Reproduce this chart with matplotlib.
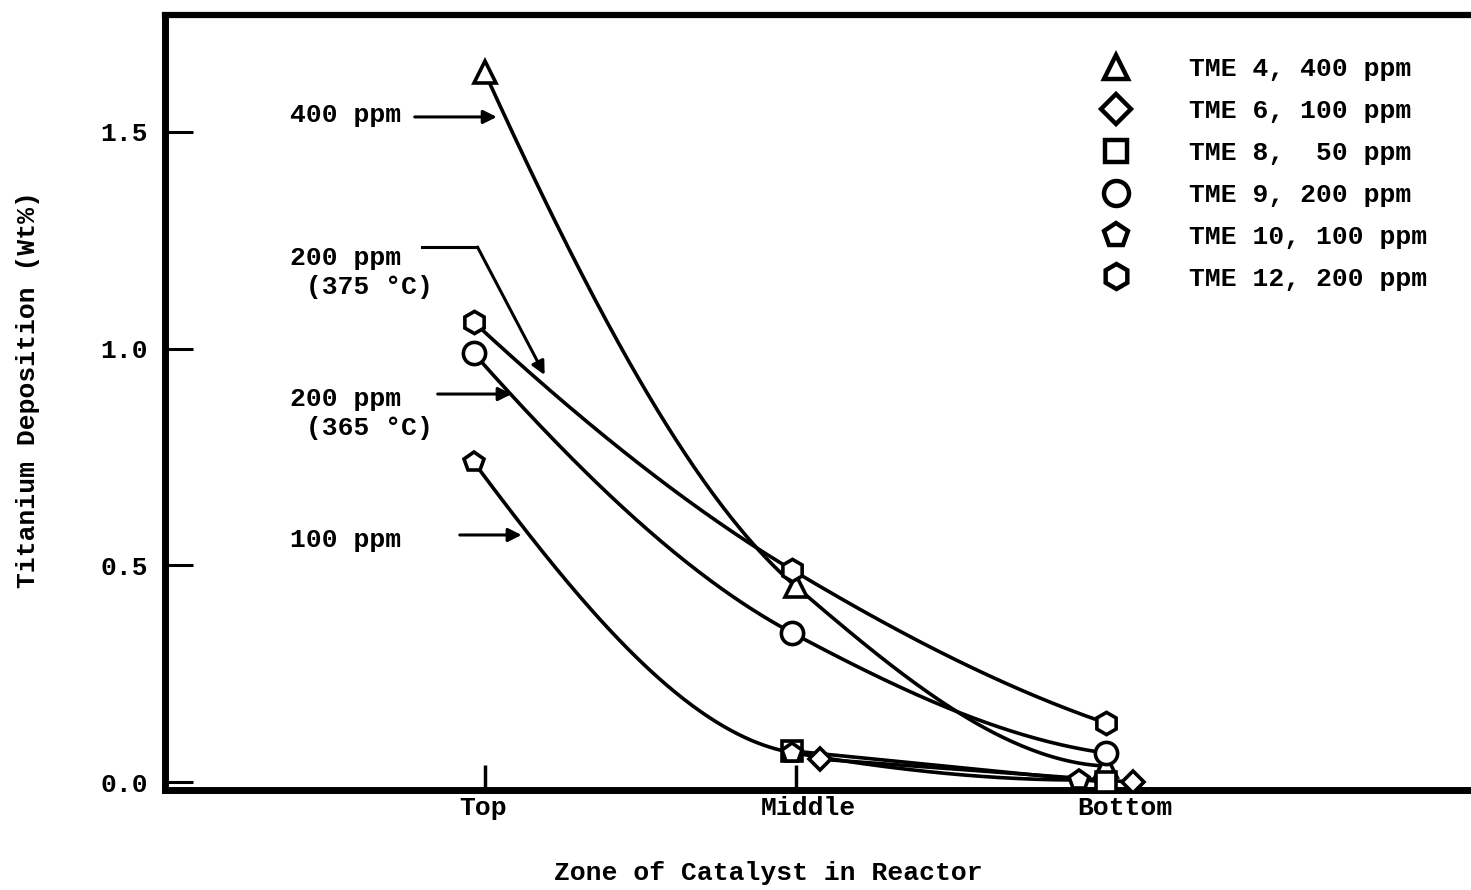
import numpy as np
import matplotlib
matplotlib.use("Agg")
import matplotlib.pyplot as plt
from matplotlib.lines import Line2D
from matplotlib.transforms import ScaledTranslation

plt.rcParams['font.family'] = ['Liberation Mono', 'DejaVu Sans Mono']
plt.rcParams['font.weight'] = 'bold'

# ---------------------------------------------------------------
# Data (Ti deposition, wt%)
# ---------------------------------------------------------------
zones = ["Top", "Middle", "Bottom"]

tme4 = [1.637, 0.452, 0.037]
tme6 = [np.nan, 0.053, 0.0]
tme8 = [np.nan, 0.072, 0.0]
tme9 = [0.989, 0.344, 0.067]
tme10 = [0.738, 0.068, 0.005]
tme12 = [1.061, 0.489, 0.136]

labels = ["TME 4, 400 ppm", "TME 6, 100 ppm", "TME 8,  50 ppm",
          "TME 9, 200 ppm", "TME 10, 100 ppm", "TME 12, 200 ppm"]

# marker, marker size, legend marker size and small horizontal dodge per zone
styles = [
    (tme4, "^", 16, 17, [0.0, 0.0, 0.0]),
    (tme6, "D", 11, 15, [0.0, 0.08, 0.085]),
    (tme8, "s", 14, 16, [0.0, -0.01, 0.0]),
    (tme9, "o", 16, 18, [-0.035, -0.01, 0.0]),
    (tme10, "p", 15, 18, [-0.035, -0.01, -0.087]),
    (tme12, "h", 16, 18, [-0.035, -0.01, 0.0]),
]


def pchip(x, y, xs):
    '''Monotone cubic through the points (used only to draw smooth curves).'''
    x = np.asarray(x, float)
    y = np.asarray(y, float)
    h = np.diff(x)
    d = np.diff(y) / h
    n = len(x)
    m = np.zeros(n)
    if n == 2:
        m[:] = d[0]
    else:
        for k in range(1, n - 1):
            if d[k - 1] * d[k] > 0:
                w1 = 2 * h[k] + h[k - 1]
                w2 = h[k] + 2 * h[k - 1]
                m[k] = (w1 + w2) / (w1 / d[k - 1] + w2 / d[k])
        for i, (hh, dd) in enumerate([((h[0], h[1]), (d[0], d[1])),
                                      ((h[-1], h[-2]), (d[-1], d[-2]))]):
            e = ((2 * hh[0] + hh[1]) * dd[0] - hh[0] * dd[1]) / (hh[0] + hh[1])
            if np.sign(e) != np.sign(dd[0]):
                e = 0.0
            elif np.sign(dd[0]) != np.sign(dd[1]) and abs(e) > abs(3 * dd[0]):
                e = 3 * dd[0]
            m[0 if i == 0 else -1] = e
    out = np.empty_like(xs)
    for j, xv in enumerate(xs):
        k = min(max(np.searchsorted(x, xv) - 1, 0), n - 2)
        t = (xv - x[k]) / h[k]
        h00 = 2 * t**3 - 3 * t**2 + 1
        h10 = t**3 - 2 * t**2 + t
        h01 = -2 * t**3 + 3 * t**2
        h11 = t**3 - t**2
        out[j] = h00 * y[k] + h10 * h[k] * m[k] + h01 * y[k + 1] + h11 * h[k] * m[k + 1]
    return out


FS = 19

fig = plt.figure(figsize=(14.71, 8.90), dpi=100)
ax = fig.add_axes([0.112, 0.1124, 0.895, 0.8707])

xpos = np.arange(len(zones))
handles = []
for (vals, mk, ms, lms, dodge), lab in zip(styles, labels):
    vals = np.asarray(vals, float)
    xs = xpos + np.asarray(dodge)
    ok = ~np.isnan(vals)
    xf, yf = xs[ok], vals[ok]
    xx = np.linspace(xf[0], xf[-1], 200)
    ax.plot(xx, pchip(xf, yf, xx), color="black", lw=2.6, zorder=2,
            solid_capstyle="round")
    ax.plot(xf, yf, linestyle="none", marker=mk, ms=ms, mfc="white",
            mec="black", mew=2.6, zorder=3)
    handles.append(Line2D([], [], linestyle="none", marker=mk, ms=lms,
                          mfc="white", mec="black", mew=3.2, label=lab))

ax.set_xlim(-1.029, 3.206)
ax.set_ylim(-0.018, 1.769)
ax.set_xticks(xpos)
ax.set_xticklabels(zones)
ax.set_yticks([0.0, 0.5, 1.0, 1.5])
ax.set_yticklabels(["0.0", "0.5", "1.0", "1.5"])
ax.tick_params(axis="x", direction="in", length=18, width=2.5, pad=4,
               labelsize=FS)
ax.tick_params(axis="y", direction="in", length=20, width=2.2, pad=12,
               labelsize=FS)
# typed labels sit a little right of the tick marks
for lbl, dx in zip(ax.get_xticklabels(), [-2, 13, 18]):
    lbl.set_transform(lbl.get_transform() + ScaledTranslation(dx / 100, 0, fig.dpi_scale_trans))
ax.spines["left"].set_linewidth(5)
ax.spines["bottom"].set_linewidth(5)
ax.spines["top"].set_linewidth(4.5)
ax.spines["right"].set_linewidth(4)

fig.text(768 / 1471, 1 - 873 / 890, "Zone of Catalyst in Reactor",
         ha="center", va="center", fontsize=FS)
fig.text(28 / 1471, 1 - 390 / 890, "Titanium Deposition (Wt%)",
         ha="center", va="center", rotation=90, fontsize=FS)

# annotations with arrows
arrow = dict(arrowstyle="-|>", color="black", lw=2.2, mutation_scale=20,
             shrinkA=0, shrinkB=0)
tx = -0.627
ax.text(tx, 1.538, "400 ppm", ha="left", va="center", fontsize=FS)
ax.annotate("", xy=(0.039, 1.534), xytext=(-0.225, 1.534), arrowprops=arrow)

ax.text(tx, 1.175, "200 ppm\n (375 °C)", ha="left", va="center",
        fontsize=FS, linespacing=1.25)
ax.plot([-0.203, -0.023], [1.234, 1.234], color="black", lw=2.2)
ax.annotate("", xy=(0.193, 0.939), xytext=(-0.023, 1.234), arrowprops=arrow)

ax.text(tx, 0.851, "200 ppm\n (365 °C)", ha="left", va="center",
        fontsize=FS, linespacing=1.25)
ax.annotate("", xy=(0.087, 0.895), xytext=(-0.151, 0.895), arrowprops=arrow)

ax.text(tx, 0.558, "100 ppm", ha="left", va="center", fontsize=FS)
ax.annotate("", xy=(0.119, 0.570), xytext=(-0.080, 0.570), arrowprops=arrow)

ax.legend(handles=handles, loc="upper left", bbox_to_anchor=(1103 / 1471, 1 - 57 / 890),
          bbox_transform=fig.transFigure, frameon=False, fontsize=FS,
          handlelength=1.0, handletextpad=2.27, labelspacing=0.68,
          borderpad=0, borderaxespad=0)

fig.savefig("out.png", dpi=100)
